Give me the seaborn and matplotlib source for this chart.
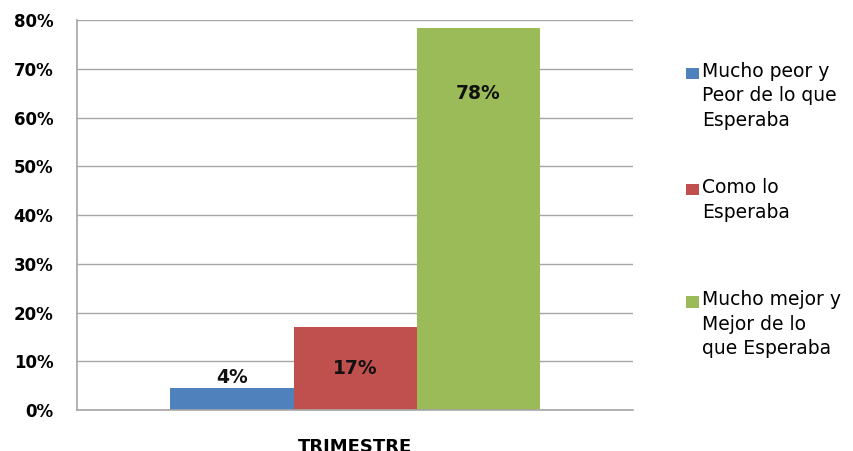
import matplotlib
matplotlib.use("Agg")
import matplotlib.pyplot as plt
import seaborn as sns
import pandas as pd
from matplotlib.ticker import PercentFormatter
from matplotlib.legend_handler import HandlerPatch
from matplotlib.patches import Rectangle

categories = ["TRIMESTRE"]
series = ["Mucho peor y\nPeor de lo que\nEsperaba",
          "Como lo\nEsperaba",
          "Mucho mejor y\nMejor de lo\nque Esperaba"]
values = [0.045, 0.170, 0.784]
value_labels = ["4%", "17%", "78%"]
colors = ["#4F81BD", "#C0504D", "#9BBB59"]
yticks = [0.0, 0.1, 0.2, 0.3, 0.4, 0.5, 0.6, 0.7, 0.8]

df = pd.DataFrame({
    "categoria": categories * len(series),
    "serie": series,
    "valor": values,
})

sns.set_style("white")
plt.rcParams['font.family'] = ['DejaVu Sans']
plt.rcParams['text.color'] = '#000000'
plt.rcParams['xtick.color'] = '#000000'
plt.rcParams['ytick.color'] = '#000000'

fig = plt.figure(figsize=(8.54, 4.51), dpi=100)
ax = fig.add_axes([0.0902, 0.0909, 0.6511, 0.8647])

sns.barplot(data=df, x="categoria", y="valor", hue="serie", hue_order=series,
            palette=colors, saturation=1, width=0.664, ax=ax, legend=False,
            linewidth=0)

ax.set_xlim(-0.5, 0.5)
ax.set_ylim(0, 0.8)
ax.set_yticks(yticks)
ax.yaxis.set_major_formatter(PercentFormatter(1.0, decimals=0))
ax.grid(axis="y", color="#A6A6A6", linewidth=1)
ax.set_axisbelow(True)
for s in ["top", "right"]:
    ax.spines[s].set_visible(False)
for s in ["left", "bottom"]:
    ax.spines[s].set_color("#A6A6A6")
    ax.spines[s].set_linewidth(1.2)
ax.tick_params(axis="y", length=5, width=1, color="#A6A6A6", pad=12,
               labelsize=12, labelcolor="#000000")
ax.tick_params(axis="x", length=0, pad=20, labelsize=13, labelcolor="#000000")
for t in ax.get_yticklabels() + ax.get_xticklabels():
    t.set_fontweight("bold")
ax.set_xlabel("")
ax.set_ylabel("")

# data labels: outside end, center, inside near top
offsets = [0.021, None, -0.134]
for cont, val, lab, off in zip(ax.containers, values, value_labels, offsets):
    bar = cont[0]
    xc = bar.get_x() + bar.get_width() / 2
    yc = val / 2 if off is None else val + off
    ax.text(xc, yc, lab, ha="center", va="center", fontsize=13.5,
            fontweight="bold", color="#111111")


def lowered_square(legend, orig_handle, xdescent, ydescent, width, height,
                   fontsize):
    return Rectangle((-xdescent, -ydescent - 4.5), width, height)


# legend: one entry per block, marker aligned with the first line
legend_tops = [0.863, 0.6055, 0.357]
for cont, lab, top in zip(ax.containers, series, legend_tops):
    leg = fig.legend([cont[0]], [lab], loc="upper left",
                     bbox_to_anchor=(0.8035, top), frameon=False,
                     fontsize=13.5, handlelength=0.7, handleheight=0.55,
                     handletextpad=0.15, borderpad=0, borderaxespad=0,
                     handler_map={cont[0]: HandlerPatch(patch_func=lowered_square)})
    for t in leg.get_texts():
        t.set_linespacing(1.38)
        t.set_color("#000000")
    for col in leg._legend_handle_box.get_children():
        for row in col.get_children():
            row.align = "top"

fig.savefig("out.png", dpi=100)
